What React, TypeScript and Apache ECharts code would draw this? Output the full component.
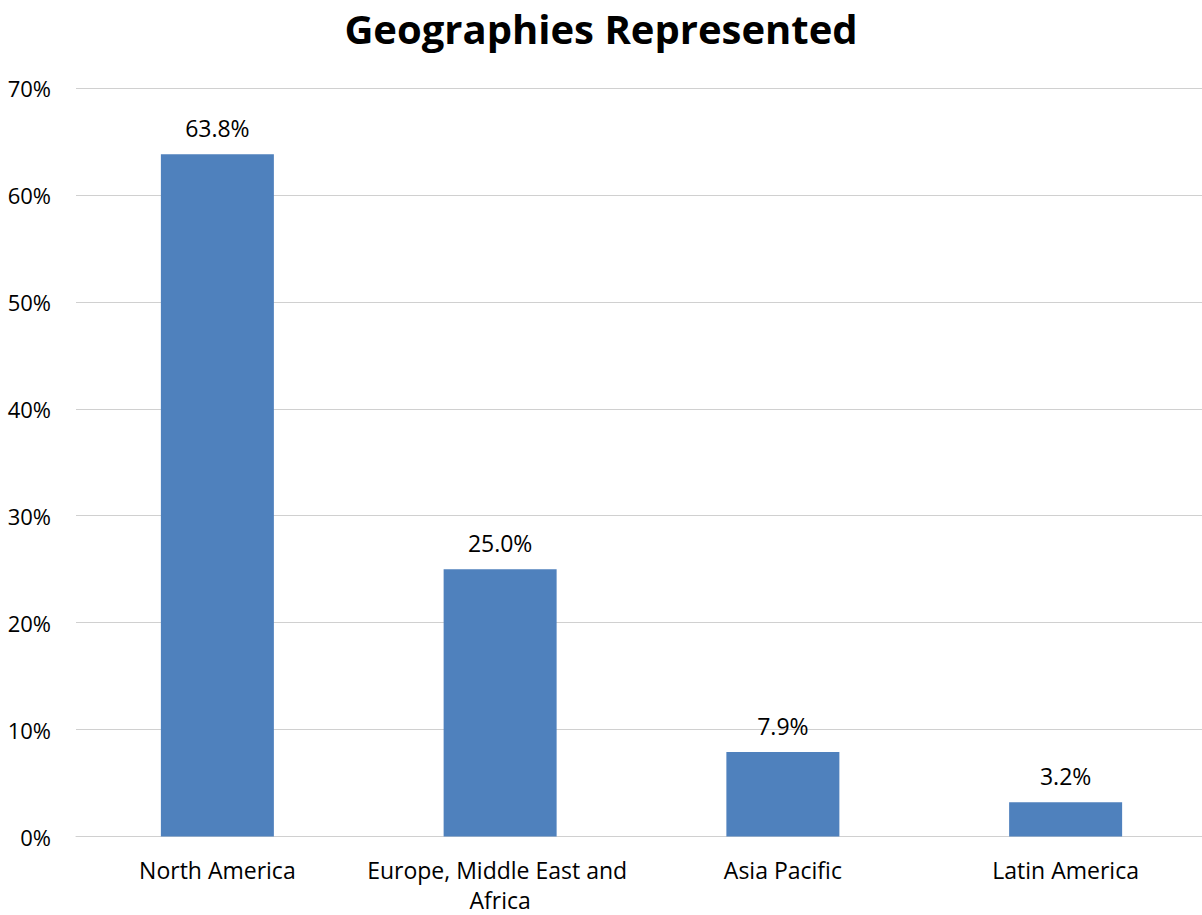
import React, { useEffect, useRef } from "react";
import * as echarts from "echarts";

const title = "Geographies Represented";
const categories = ["North America", "Europe, Middle East and Africa", "Asia Pacific", "Latin America"];
const values = [63.8, 25.0, 7.9, 3.2];
const yTicks = { min: 0, max: 70, interval: 10 };

const FONT = "'Open Sans', 'Noto Sans', sans-serif";

export default function App() {
  const ref = useRef<HTMLDivElement>(null);
  useEffect(() => {
    if (!ref.current) return;
    const chart = echarts.init(ref.current, null, { renderer: "svg" });
    chart.setOption({
      animation: false,
      backgroundColor: "#ffffff",
      title: {
        text: title,
        left: "center",
        top: 3,
        padding: 5,
        textStyle: {
          fontFamily: FONT,
          fontSize: 40,
          lineHeight: 40,
          fontWeight: "bold",
          color: "#000",
        },
      },
      grid: {
        left: 76,
        right: -5,
        top: 88,
        bottom: 915 - 836.5,
        containLabel: false,
        outerBoundsMode: "none",
      },
      xAxis: {
        type: "category",
        data: categories,
        axisTick: { show: false },
        axisLine: { show: true, lineStyle: { color: "#D0D0D0", width: 1 } },
        axisLabel: {
          interval: 0,
          margin: 18,
          width: 290,
          overflow: "break",
          lineHeight: 30,
          fontFamily: FONT,
          fontSize: 23,
          color: "#000",
        },
      },
      yAxis: {
        type: "value",
        min: yTicks.min,
        max: yTicks.max,
        interval: yTicks.interval,
        axisLine: { show: false },
        axisTick: { show: false },
        splitLine: { lineStyle: { color: "#D0D0D0", width: 1 } },
        axisLabel: {
          formatter: "{value}%",
          margin: 25,
          fontFamily: FONT,
          fontSize: 22,
          color: "#000",
        },
      },
      series: [
        {
          type: "bar",
          data: values,
          barWidth: 113,
          itemStyle: { color: "#4F81BD" },
          label: {
            show: true,
            position: "top",
            distance: 15,
            formatter: (p: any) => p.value.toFixed(1) + "%",
            fontFamily: FONT,
            fontSize: 23,
            color: "#000",
          },
        },
      ],
    });
    return () => chart.dispose();
  }, []);
  return (
    <div
      ref={ref}
      style={{ position: "absolute", left: 0, top: 0, width: 1202, height: 915 }}
    />
  );
}
